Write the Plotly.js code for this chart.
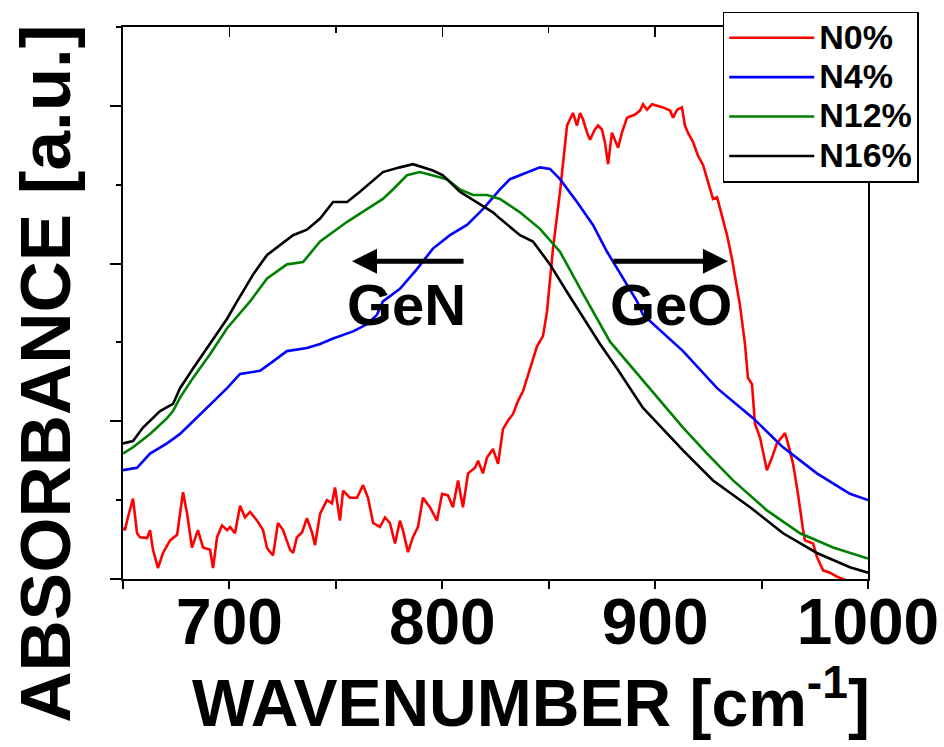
<!DOCTYPE html>
<html>
<head>
<meta charset="utf-8">
<script src="https://cdn.plot.ly/plotly-3.0.1.min.js"></script>
<style>html,body{margin:0;padding:0;background:#fff;}#chart{width:944px;height:747px;}</style>
</head>
<body>
<div id="chart"></div>
<script>
// Wavenumber (cm^-1) and absorbance (a.u.)
const seriesNames = ["N0%", "N4%", "N12%", "N16%"];
const seriesColors = ["#ff0000", "#0000ff", "#008000", "#000000"];

const n0X = [650,650.9,652.3,654.7,656.6,658.0,661.3,662.7,664.1,666.4,
  668.8,672.1,675.4,676.8,678.2,680.1,682.4,685.2,687.6,690.9,
  692.3,694.2,696.5,698.9,700.3,702.6,705.0,707.3,709.7,713.0,
  715.8,717.7,720.5,722.8,725.2,728.5,729.9,731.7,734.1,736.4,
  738.8,740.2,742.6,745.8,748.2,749.6,751.9,753.4,756.6,759.9,
  762.8,765.1,767.5,770.7,773.1,775.4,777.8,780.1,781.5,783.9,
  786.2,788.6,790.9,794.2,797.5,799.9,802.7,805.0,807.4,809.7,
  812.1,815.4,816.8,819.1,821.0,823.8,826.2,828.5,830.9,833.2,
  835.6,837.9,841.2,844.5,847.3,849.2,852.0,855.3,858.6,860.9,
  861.4,863.3,864.7,866.1,868.0,869.4,871.7,873.2,875.0,876.4,
  877.9,879.7,881.1,882.6,884.4,886.8,890.5,892.9,894.3,896.2,
  898.5,900.9,903.7,907.0,908.4,910.3,912.6,914.0,915.4,917.8,
  920.1,922.5,924.8,927.2,929.1,931.4,933.8,936.1,939.8,942.2,
  943.6,945.5,946.9,949.3,952.5,954.9,957.2,961.0,962.4,964.8,
  967.1,969.5,970.4,974.2,976.0,978.9,982.1,985.4,990.1,1000];
const n0Y = [0.65,0.62,0.78,1.02,0.58,0.53,0.52,0.62,0.37,0.14,
  0.33,0.49,0.56,0.83,1.10,0.83,0.40,0.62,0.40,0.37,
  0.14,0.53,0.68,0.62,0.66,0.58,0.93,0.78,0.85,0.74,
  0.62,0.39,0.30,0.71,0.62,0.37,0.33,0.53,0.59,0.77,
  0.59,0.43,0.83,1.00,0.96,1.16,0.74,1.12,1.03,1.03,
  1.19,1.03,0.71,0.66,0.78,0.71,0.45,0.74,0.62,0.34,
  0.53,0.66,1.03,0.91,0.74,1.08,1.06,0.91,1.25,0.91,
  1.34,1.41,1.50,1.34,1.54,1.65,1.46,1.90,2.01,2.09,
  2.26,2.38,2.67,2.95,3.08,3.39,4.19,4.91,5.75,5.88,
  5.91,5.75,5.91,5.83,5.66,5.57,5.70,5.75,5.70,5.54,
  5.26,5.66,5.57,5.47,5.66,5.85,5.89,5.94,6.02,5.95,
  6.02,6.00,5.98,5.94,5.85,5.95,5.98,5.75,5.66,5.54,
  5.37,5.25,5.03,4.82,4.84,4.62,4.36,4.06,3.48,2.98,
  2.55,2.47,1.97,1.79,1.38,1.54,1.72,1.85,1.72,1.46,
  1.08,0.62,0.49,0.45,0.28,0.11,0.08,0.03,-0.02,-0.10];

const n4X = [650,656.6,662.7,670.7,676.8,686.2,694.2,698.9,705.0,714.4,
  720.5,727.0,736.4,742.6,748.7,758.1,764.6,769.3,772.1,780.1,
  788.1,795.6,803.6,811.6,819.1,827.1,831.8,839.8,845.9,850.6,
  855.3,863.3,870.8,877.4,884.9,891.5,894.3,913.1,929.1,946.0,
  960.1,976.0,991.5,1000];
const n4Y = [1.38,1.41,1.59,1.72,1.84,2.09,2.30,2.42,2.60,2.64,
  2.76,2.89,2.93,2.98,3.05,3.14,3.23,3.35,3.52,3.68,
  3.93,4.19,4.36,4.49,4.69,4.94,5.07,5.16,5.22,5.20,
  5.07,4.78,4.49,4.15,3.81,3.52,3.35,2.89,2.42,2.04,
  1.67,1.34,1.08,1.00];

const n12X = [650,654.7,662.7,670.7,673.5,676.8,682.9,690.9,698.9,701.7,
  709.7,717.7,727.0,734.6,742.6,748.7,755.3,764.6,772.1,776.8,
  783.4,789.5,795.6,802.2,808.3,814.4,821.0,827.1,836.5,845.9,
  855.3,863.3,866.1,878.8,889.6,902.3,913.1,924.4,936.6,952.5,
  968.1,983.6,1000];
const n12Y = [1.59,1.67,1.84,2.04,2.13,2.30,2.55,2.85,3.18,3.27,
  3.52,3.81,3.99,4.02,4.28,4.40,4.53,4.69,4.82,4.94,
  5.12,5.16,5.12,5.07,4.94,4.87,4.87,4.82,4.65,4.44,
  4.15,3.77,3.62,3.01,2.67,2.26,1.92,1.59,1.25,0.87,
  0.58,0.40,0.26];

const n16X = [650,654.7,659.4,667.4,673.5,676.8,682.9,690.9,698.9,703.6,
  711.1,717.7,723.8,729.9,736.4,742.6,748.7,755.3,761.3,764.6,
  772.1,780.1,786.2,795.6,800.3,808.3,814.4,823.8,827.1,836.5,
  842.6,850.6,858.6,874.1,882.1,894.3,913.1,927.2,944.6,960.1,
  976.0,991.5,1000];
const n16Y = [1.72,1.75,1.92,2.13,2.22,2.42,2.67,2.98,3.30,3.52,
  3.86,4.11,4.24,4.36,4.43,4.57,4.78,4.78,4.91,4.99,
  5.16,5.22,5.26,5.18,5.12,4.91,4.81,4.65,4.57,4.36,
  4.28,3.99,3.64,2.98,2.67,2.17,1.63,1.25,0.91,0.58,
  0.33,0.15,0.08];

const xRange = [650, 1000];
const yRange = [0, 7];

const xTitle = "WAVENUMBER [cm<sup>-1</sup>]";
const yTitle = "ABSORBANCE [a.u.]";
const labelGeN = "GeN";
const labelGeO = "GeO";
const arrowGeN = {head: [757.6, 4.03], tail: [810.7, 4.03], text: [783.4, 3.48]};
const arrowGeO = {head: [934.2, 4.03], tail: [879.7, 4.03], text: [907.5, 3.48]};

const FONT = "Liberation Sans, Arial, Helvetica, sans-serif";

const xs = [n0X, n4X, n12X, n16X];
const ys = [n0Y, n4Y, n12Y, n16Y];
const traces = seriesNames.map((name, i) => ({
  type: "scatter", mode: "lines",
  name: '<span style="font-size:34px">' + name + '</span>',
  x: xs[i], y: ys[i],
  line: {color: seriesColors[i], width: 2.6}
}));
// helper trace so the mirrored top axis (inside ticks) is drawn
traces.push({type: "scatter", mode: "lines", x: xRange, y: [null, null], xaxis: "x2", yaxis: "y", showlegend: false, hoverinfo: "skip"});

const layout = {
  width: 944, height: 747,
  margin: {l: 123, r: 76, t: 24, b: 168},
  paper_bgcolor: "#ffffff", plot_bgcolor: "#ffffff",
  font: {family: FONT, color: "#000000"},
  showlegend: true,
  legend: {
    x: 0.805, y: 1.028, xanchor: "left", yanchor: "top",
    bgcolor: "#ffffff", bordercolor: "#000000", borderwidth: 1.5,
    font: {family: FONT, size: 28, weight: "bold", color: "#000000"},
    itemwidth: 85, tracegroupgap: 0
  },
  xaxis: {
    range: xRange, dtick: 100, tick0: 0,
    showline: true, linecolor: "#000", linewidth: 2, mirror: true,
    ticks: "outside", ticklen: 8, tickwidth: 2, tickcolor: "#000",
    minor: {dtick: 50, ticks: "outside", ticklen: 8, tickwidth: 2, tickcolor: "#000"},
    showgrid: false, zeroline: false,
    tickfont: {family: FONT, size: 64, weight: "bold", color: "#000"},
    ticklabelstandoff: -22,
    automargin: false
  },
  xaxis2: {
    range: xRange, overlaying: "x", side: "top", anchor: "y",
    dtick: 100, tick0: 0,
    showline: false, showgrid: false, zeroline: false, showticklabels: false,
    ticks: "inside", ticklen: 10, tickwidth: 1.5, tickcolor: "#000",
    minor: {dtick: 50, ticks: "inside", ticklen: 6, tickwidth: 1.5, tickcolor: "#000"}
  },
  yaxis: {
    range: yRange, dtick: 2, tick0: 0,
    showline: true, linecolor: "#000", linewidth: 2, mirror: true,
    ticks: "outside", ticklen: 11, tickwidth: 2, tickcolor: "#000",
    minor: {dtick: 1, ticks: "outside", ticklen: 5, tickwidth: 2, tickcolor: "#000"},
    showticklabels: false, showgrid: false, zeroline: false,
    automargin: false
  },
  annotations: [
    {x: 0.5477, y: -0.216, xref: "paper", yref: "paper", xanchor: "center", yanchor: "middle",
     text: xTitle, showarrow: false, font: {family: FONT, size: 66, weight: "bold", color: "#000"}},
    {x: -0.104, y: 0.371, xref: "paper", yref: "paper", xanchor: "center", yanchor: "middle", textangle: -90,
     text: yTitle, showarrow: false, font: {family: FONT, size: 71, weight: "bold", color: "#000"}},
    {x: arrowGeN.head[0], y: arrowGeN.head[1], ax: arrowGeN.tail[0], ay: arrowGeN.tail[1],
     xref: "x", yref: "y", axref: "x", ayref: "y", text: "", showarrow: true,
     arrowhead: 2, arrowsize: 1, arrowwidth: 5, arrowcolor: "#000", standoff: 0, startstandoff: 0},
    {x: arrowGeO.head[0], y: arrowGeO.head[1], ax: arrowGeO.tail[0], ay: arrowGeO.tail[1],
     xref: "x", yref: "y", axref: "x", ayref: "y", text: "", showarrow: true,
     arrowhead: 2, arrowsize: 1, arrowwidth: 5, arrowcolor: "#000", standoff: 0, startstandoff: 0},
    {x: arrowGeN.text[0], y: arrowGeN.text[1], xref: "x", yref: "y", text: labelGeN, showarrow: false,
     font: {family: FONT, size: 58, weight: "bold", color: "#000"}},
    {x: arrowGeO.text[0], y: arrowGeO.text[1], xref: "x", yref: "y", text: labelGeO, showarrow: false,
     font: {family: FONT, size: 58, weight: "bold", color: "#000"}}
  ]
};

Plotly.newPlot("chart", traces, layout, {staticPlot: true, displayModeBar: false});
</script>
</body>
</html>
